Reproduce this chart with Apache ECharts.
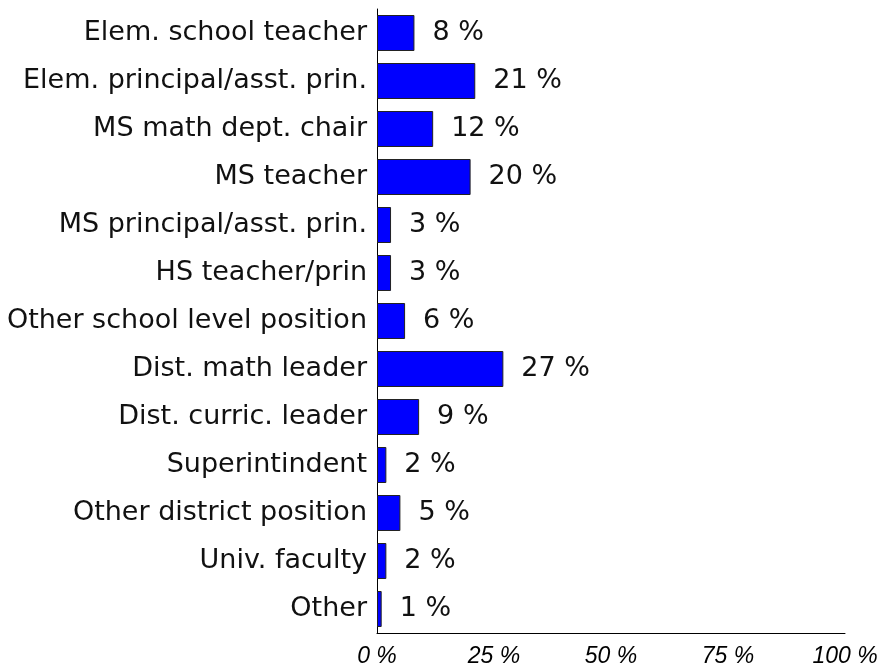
<!DOCTYPE html>
<html><head><meta charset="utf-8">
<script src="https://cdn.jsdelivr.net/npm/echarts@6/dist/echarts.min.js"></script>
<style>html,body{margin:0;padding:0;background:#fff}#c{width:889px;height:666px}</style>
</head><body><div id="c"></div>
<script>
const categories = ["Elem. school teacher","Elem. principal/asst. prin.","MS math dept. chair","MS teacher","MS principal/asst. prin.","HS teacher/prin","Other school level position","Dist. math leader","Dist. curric. leader","Superintindent","Other district position","Univ. faculty","Other"];
const values = [8,21,12,20,3,3,6,27,9,2,5,2,1];
const xTicks = [0,25,50,75,100];

const chart = echarts.init(document.getElementById('c'));
chart.setOption({
  animation:false,
  grid:{left:377,top:9,width:468,height:624,containLabel:false,outerBoundsMode:'none'},
  xAxis:{type:'value',min:0,max:100,interval:25,
    axisLine:{show:true,lineStyle:{color:'#000',width:1}},
    axisTick:{show:false},splitLine:{show:false},
    axisLabel:{margin:12,fontFamily:'Liberation Sans',fontSize:23,fontStyle:'italic',color:'#000',
      formatter:v=>xTicks.includes(v)?v+' %':''}},
  yAxis:{type:'category',data:categories,inverse:true,
    axisLine:{show:true,lineStyle:{color:'#000',width:1}},
    axisTick:{show:false},
    axisLabel:{margin:10,fontFamily:'DejaVu Sans',fontSize:27,color:'#111'}},
  series:[{type:'bar',data:values,barWidth:36,
    itemStyle:{color:'#0000ff',borderColor:'#222',borderWidth:1},
    label:{show:true,position:'right',distance:18,formatter:'{c} %',fontFamily:'DejaVu Sans',fontSize:27,color:'#111'}}]
});
</script></body></html>
